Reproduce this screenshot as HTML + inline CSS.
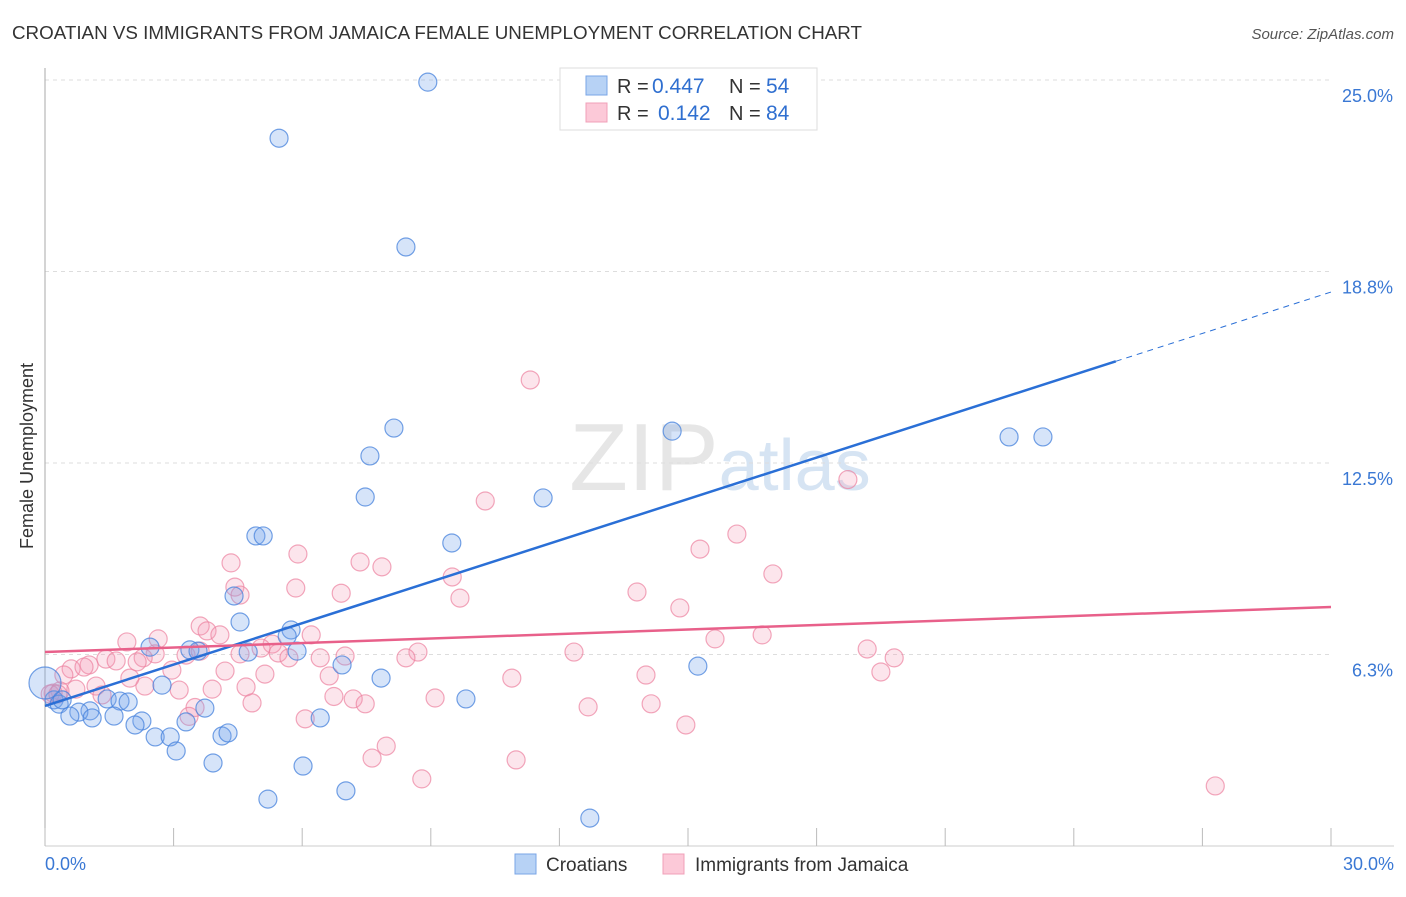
<!DOCTYPE html>
<html><head><meta charset="utf-8"><style>
body{margin:0;background:#fff;font-family:"Liberation Sans",sans-serif;}
svg text{font-family:"Liberation Sans",sans-serif;}
</style></head><body>
<svg id="chart" width="1406" height="892" xmlns="http://www.w3.org/2000/svg">
<text x="12" y="39" font-size="18" fill="#333" textLength="850" lengthAdjust="spacingAndGlyphs">CROATIAN VS IMMIGRANTS FROM JAMAICA FEMALE UNEMPLOYMENT CORRELATION CHART</text>
<text x="1394" y="39" font-size="15" fill="#555" text-anchor="end" font-style="italic">Source: ZipAtlas.com</text>
<text x="720" y="490" font-size="96" fill="#e6e6e6" text-anchor="middle" font-family="Liberation Serif">ZIP<tspan fill="#d6e4f3" font-family="Liberation Sans" font-size="72">atlas</tspan></text>
<g id="grid"></g>
<g id="axes"></g>
<g id="pts"></g>
<g id="lines"></g>
<text transform="translate(33,456) rotate(-90)" font-size="18" fill="#333" text-anchor="middle">Female Unemployment</text>
<g>
<rect x="560" y="68" width="257" height="62" fill="#fff" stroke="#ddd"/>
<rect x="586" y="76" width="21" height="19" fill="#b7d2f5" stroke="#7aa5e6"/>
<rect x="586" y="103" width="21" height="19" fill="#fcc9d8" stroke="#f0a0b8"/>
<text x="617" y="93" font-size="20" fill="#333">R =</text>
<text x="652" y="93" font-size="21" fill="#2f6fd0">0.447</text>
<text x="729" y="93" font-size="20" fill="#333">N =</text>
<text x="766" y="93" font-size="21" fill="#2f6fd0">54</text>
<text x="617" y="120" font-size="20" fill="#333">R =</text>
<text x="658" y="120" font-size="21" fill="#2f6fd0">0.142</text>
<text x="729" y="120" font-size="20" fill="#333">N =</text>
<text x="766" y="120" font-size="21" fill="#2f6fd0">84</text>
</g>
<g>
<rect x="515" y="854" width="21" height="20" fill="#b7d2f5" stroke="#7aa5e6"/>
<text x="546" y="871" font-size="19" fill="#333">Croatians</text>
<rect x="663" y="854" width="21" height="20" fill="#fcc9d8" stroke="#f0a0b8"/>
<text x="695" y="871" font-size="19" fill="#333">Immigrants from Jamaica</text>
</g>
</svg>
<script>
const yTicks=[6.25,12.5,18.75,25];
const yTickLabels=["6.3%","12.5%","18.8%","25.0%"];
const xTickLabels=["0.0%","30.0%"];
const blueX=[8.93,5.46,8.42,8.14,14.63,22.49,23.28,7.58,7.47,11.62,4.92,5.09,9.49,4.41,4.55,5.74,5.65,2.45,3.38,3.57,4.74,5.88,6.93,15.23,2.73,7.84,0.21,1.45,1.75,1.94,9.82,0.33,1.05,0.79,0.58,1.61,1.10,3.73,6.42,2.26,2.10,3.29,2.57,2.92,4.13,4.27,3.06,3.92,6.02,5.20,7.02,12.71,0.40,0];
const blueY=[24.93,23.10,19.55,13.64,13.54,13.35,13.35,12.73,11.39,11.36,10.12,10.12,9.89,8.16,7.31,7.05,6.85,6.49,6.40,6.36,6.33,6.36,5.91,5.87,5.25,5.48,4.77,4.80,4.73,4.70,4.80,4.63,4.41,4.37,4.24,4.24,4.18,4.50,4.18,4.08,3.95,4.05,3.56,3.56,3.59,3.69,3.10,2.71,2.61,1.53,1.80,0.91,4.77,5.32];
const pinkX=[11.32,18.73,10.27,16.14,15.28,5.90,7.35,7.86,4.34,16.98,4.43,5.85,4.55,9.50,13.81,9.68,6.91,14.81,3.62,3.78,4.08,2.64,1.91,6.21,5.30,15.63,16.73,19.18,19.81,12.34,8.70,8.42,7.00,5.04,5.44,5.69,6.42,3.29,2.57,2.29,2.15,1.42,1.66,1.03,0.61,0.91,0.44,2.96,4.20,5.13,6.63,10.89,14.02,19.50,1.19,0.72,0.19,0.35,3.13,3.90,4.69,1.33,2.33,1.98,9.10,12.67,14.14,6.74,7.19,7.47,4.83,3.50,3.36,6.07,14.95,7.96,7.63,10.99,8.79,27.30,0.12,0.30,4.55,3.62];
const pinkY=[15.21,11.96,11.26,10.18,9.69,9.53,9.27,9.11,9.24,8.88,8.45,8.42,8.19,8.78,8.29,8.09,8.25,7.77,7.18,7.02,6.89,6.76,6.66,6.89,6.59,6.76,6.89,6.43,6.14,6.33,6.33,6.14,6.20,6.46,6.30,6.14,6.14,6.23,6.27,6.14,6.01,6.10,6.04,5.91,5.78,5.84,5.58,5.74,5.71,5.61,5.55,5.48,5.58,5.68,5.22,5.12,4.99,5.06,5.09,5.12,5.19,4.93,5.22,5.48,4.83,4.54,4.64,4.88,4.80,4.64,4.67,4.52,4.23,4.15,3.95,3.26,2.87,2.81,2.19,1.96,4.96,4.96,6.27,6.36];
const blueLine=[4.57,18.08];const pinkLine=[6.33,7.80];
const NS="http://www.w3.org/2000/svg";
const X=v=>45+v/30*1286;
const Y=v=>846-v*30.64;
function mk(t,a,p){const e=document.createElementNS(NS,t);for(const k in a)e.setAttribute(k,a[k]);p.appendChild(e);return e;}
const grid=document.getElementById('grid'),axes=document.getElementById('axes'),pts=document.getElementById('pts'),lines=document.getElementById('lines');
yTicks.forEach((v,i)=>{
 const l=mk('line',{x1:45,x2:1331,y1:Y(v),y2:Y(v),stroke:'#ddd','stroke-dasharray':'4,4'},grid);
 
 
 const t=mk('text',{x:1393,y:Y(v)+22,'font-size':18,fill:'#3a78d4','text-anchor':'end'},axes);
 t.textContent=yTickLabels[i];
 
 
});
let ax=mk('line',{x1:45,x2:45,y1:68,y2:846,stroke:'#aaa'},axes);


ax=mk('line',{x1:45,x2:1394,y1:846,y2:846,stroke:'#ccc'},axes);


for(let i=0;i<=10;i++){const v=i*3;const t=mk('line',{x1:X(v),x2:X(v),y1:828,y2:846,stroke:'#bbb'},axes);
 
 }
[[0,'start',45],[30,'end',1394]].forEach((d,i)=>{const t=mk('text',{x:d[2],y:870,'font-size':18,fill:'#3a78d4','text-anchor':d[1]},axes);t.textContent=xTickLabels[i];
 
 });
pinkX.forEach((x,i)=>{const c=mk('circle',{cx:X(x),cy:Y(pinkY[i]),r:9,fill:'rgba(244,150,178,0.25)',stroke:'rgba(236,130,160,0.7)','stroke-width':1.2},pts);
 
 });
blueX.forEach((x,i)=>{const c=mk('circle',{cx:X(x),cy:Y(blueY[i]),r:i==blueX.length-1?16:9,fill:'rgba(120,165,235,0.3)',stroke:'rgba(70,130,220,0.75)','stroke-width':1.2},pts);
 
 });
const bx=24.98,by=blueLine[0]+(blueLine[1]-blueLine[0])*bx/30;
let l=mk('line',{x1:X(0),y1:Y(blueLine[0]),x2:X(bx),y2:Y(by),stroke:'#2a6fd6','stroke-width':2.5},lines);


l=mk('line',{x1:X(bx),y1:Y(by),x2:X(30),y2:Y(blueLine[1]),stroke:'#2a6fd6','stroke-width':1,'stroke-dasharray':'6,5'},lines);


l=mk('line',{x1:X(0),y1:Y(pinkLine[0]),x2:X(30),y2:Y(pinkLine[1]),stroke:'#e8608a','stroke-width':2.5},lines);


</script>
</body></html>
